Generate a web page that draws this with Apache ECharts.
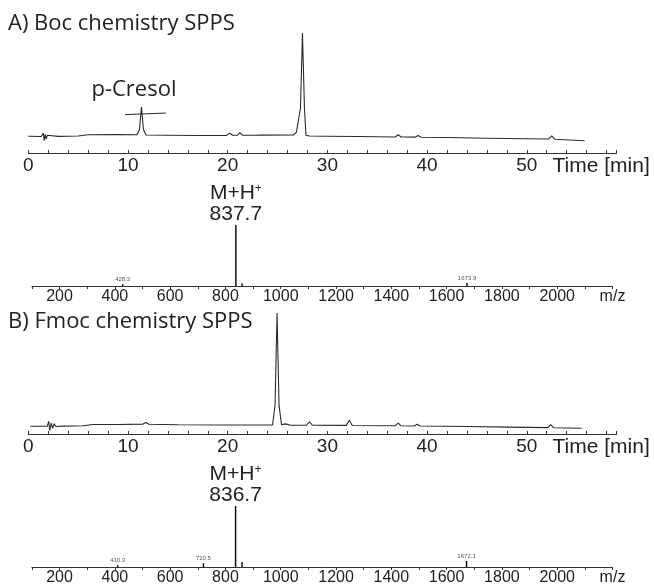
<!DOCTYPE html>
<html>
<head>
<meta charset="utf-8">
<script src="https://cdn.jsdelivr.net/npm/echarts@6/dist/echarts.min.js"></script>
<style>
  html, body { margin: 0; padding: 0; background: #fff; }
  #main { width: 654px; height: 588px; }
</style>
</head>
<body>
<div id="main"></div>
<script>
// HPLC traces: [time (min), intensity]
const traceBoc = [
  [0, 3.6], [1.3, 3.4], [1.5, 6.5], [1.6, -0.5], [1.7, 5.5], [1.8, 1], [1.9, 4.5], [2.1, 3.2],
  [3, 3.5], [5, 3.8], [6, 5], [9, 5.2], [10.9, 5], [11.15, 10], [11.35, 31], [11.55, 10], [11.8, 4.8],
  [14, 4.6], [17, 4.3], [19.9, 4.4], [20.2, 6.5], [20.5, 4.5], [21, 4.6], [21.2, 7], [21.5, 4.6],
  [22.8, 4.6], [23.0, 6.3], [23.3, 4.7], [26.6, 4.8], [26.9, 7.5], [27.1, 8], [27.3, 30], [27.5, 100],
  [27.7, 30], [27.85, 4.5], [28.2, 3.8], [30, 3.7], [33, 3.4], [36.8, 3], [37.1, 5], [37.4, 3],
  [38.8, 2.8], [39.1, 4.3], [39.4, 2.7], [42, 2.4], [46, 1.8], [50, 1.3], [52.2, 1], [52.5, 4],
  [52.8, 0.9], [55.8, -0.5]
];
const traceFmoc = [
  [0.2, 1.7], [1.9, 1.8], [2.05, 6], [2.15, -2], [2.3, 4.5], [2.45, 0], [2.6, 4], [2.75, 1.5],
  [3.5, 1.8], [5.5, 2.2], [6.5, 3.3], [9, 3.3], [11.5, 3.6], [11.8, 5], [12.1, 3.4], [15, 3],
  [20, 2.8], [24.5, 2.8], [24.75, 20], [24.95, 100], [25.15, 20], [25.4, 3], [25.8, 3.8], [26.3, 2.6],
  [27.9, 2.6], [28.2, 5.5], [28.5, 2.6], [31.9, 2.5], [32.2, 7], [32.5, 2.4], [36.8, 2.2], [37.1, 4.5],
  [37.4, 2.1], [38.7, 2], [39, 3.4], [39.3, 1.9], [44, 1.5], [48, 1], [52.1, 0.5], [52.4, 3.2],
  [52.7, 0.4], [55.5, 0]
];

// p-Cresol marker
const cresolBar = [[9.7, 23.8], [13.8, 25.3]];
const cresolLabelAt = [10.6, 46.7];

// mass spectra
const msBocMz = [428.3, 837.7, 860, 1673.9];
const msBocInt = [3, 100, 4, 5];
const msBocLabel = ['428.3', '837.7', '', '1673.9'];
const msFmocMz = [410.3, 720.5, 836.7, 860, 1672.1];
const msFmocInt = [3, 6, 100, 8, 10];
const msFmocLabel = ['410.3', '720.5', '836.7', '', '1672.1'];

// tick labels
const timeLabels = [0, 10, 20, 30, 40, 50];
const mzLabels = [200, 400, 600, 800, 1000, 1200, 1400, 1600, 1800, 2000];

const chart = echarts.init(document.getElementById('main'));
const ink = '#222';

function msData(mz, ints, labels) {
  return mz.map((m, i) => {
    let lab = labels[i];
    let item = { value: [m, ints[i]] };
    if (ints[i] >= 50) {
      item.label = {
        show: true, position: 'top', distance: 0,
        formatter: '{a|M+H}{s|+}\n{a|' + lab + '}',
        rich: {
          a: { fontSize: 21, lineHeight: 21, color: ink, fontFamily: 'Liberation Sans' },
          s: { fontSize: 12, lineHeight: 21, color: ink, fontFamily: 'Liberation Sans', padding: [0, 0, 10, 0] }
        }
      };
    } else if (lab) {
      item.label = { show: true, position: 'top', distance: 2, formatter: lab, fontSize: 6, color: '#555' };
    }
    return item;
  });
}

function timeAxis(idx) {
  return {
    type: 'value', gridIndex: idx, min: 0, max: 59, interval: 2,
    axisLine: { onZero: false, lineStyle: { color: '#333', width: 1 } },
    axisTick: { inside: true, length: 3, lineStyle: { color: '#333' } },
    splitLine: { show: false },
    axisLabel: {
      margin: 3, fontSize: 19, color: ink, fontFamily: 'Liberation Sans',
      formatter: v => timeLabels.includes(v) ? String(v) : ''
    },
    name: 'Time [min]', nameLocation: 'end', nameGap: -64, nameMoveOverlap: false,
    nameTextStyle: { fontSize: 21, color: ink, fontFamily: 'Liberation Sans', align: 'left', verticalAlign: 'top', padding: [3, 0, 0, 0] }
  };
}

function mzAxis(idx) {
  return {
    type: 'value', gridIndex: idx, min: 100, max: 2200, interval: 100,
    axisLine: { onZero: false, lineStyle: { color: '#333', width: 1 } },
    axisTick: { length: 3, lineStyle: { color: '#333' } },
    splitLine: { show: false },
    axisLabel: {
      margin: 3, fontSize: 16, color: ink, fontFamily: 'Liberation Sans',
      formatter: v => v === 2200 ? 'm/z' : (mzLabels.includes(v) ? String(v) : '')
    }
  };
}

const option = {
  animation: false,
  title: [
    { text: 'A) Boc chemistry SPPS', left: 8, top: 13, padding: 0,
      textStyle: { fontSize: 22, fontWeight: 'normal', color: ink, fontFamily: 'Open Sans' } },
    { text: 'B) Fmoc chemistry SPPS', left: 8, top: 311, padding: 0,
      textStyle: { fontSize: 22, fontWeight: 'normal', color: ink, fontFamily: 'Open Sans' } }
  ],
  grid: [
    { left: 28.3, right: 37.5, top: 33, height: 120, containLabel: false },
    { left: 31.9, right: 41.5, top: 225, height: 61, containLabel: false },
    { left: 28.3, right: 37.5, top: 313, height: 121, containLabel: false },
    { left: 31.9, right: 41.5, top: 506, height: 61, containLabel: false }
  ],
  xAxis: [timeAxis(0), mzAxis(1), timeAxis(2), mzAxis(3)],
  yAxis: [
    { gridIndex: 0, type: 'value', min: -12, max: 100, show: false },
    { gridIndex: 1, type: 'value', min: 0, max: 100, show: false },
    { gridIndex: 2, type: 'value', min: -5, max: 100, show: false },
    { gridIndex: 3, type: 'value', min: 0, max: 100, show: false }
  ],
  series: [
    { type: 'line', xAxisIndex: 0, yAxisIndex: 0, data: traceBoc, showSymbol: false,
      lineStyle: { color: '#2a2a2a', width: 1.1 } },
    { type: 'line', xAxisIndex: 0, yAxisIndex: 0, data: cresolBar, showSymbol: false,
      lineStyle: { color: '#2a2a2a', width: 1 } },
    { type: 'scatter', xAxisIndex: 0, yAxisIndex: 0, data: [cresolLabelAt], symbolSize: 0,
      itemStyle: { color: ink, opacity: 1 },
      label: { show: true, position: 'inside', formatter: 'p-Cresol', fontSize: 22, color: ink,
        textBorderWidth: 0, fontFamily: 'Open Sans' } },
    { type: 'bar', xAxisIndex: 1, yAxisIndex: 1, barWidth: 1.5, data: msData(msBocMz, msBocInt, msBocLabel),
      itemStyle: { color: '#111' } },
    { type: 'line', xAxisIndex: 2, yAxisIndex: 2, data: traceFmoc, showSymbol: false,
      lineStyle: { color: '#2a2a2a', width: 1.1 } },
    { type: 'bar', xAxisIndex: 3, yAxisIndex: 3, barWidth: 1.5, data: msData(msFmocMz, msFmocInt, msFmocLabel),
      itemStyle: { color: '#111' } }
  ]
};
chart.setOption(option);
</script>
</body>
</html>
